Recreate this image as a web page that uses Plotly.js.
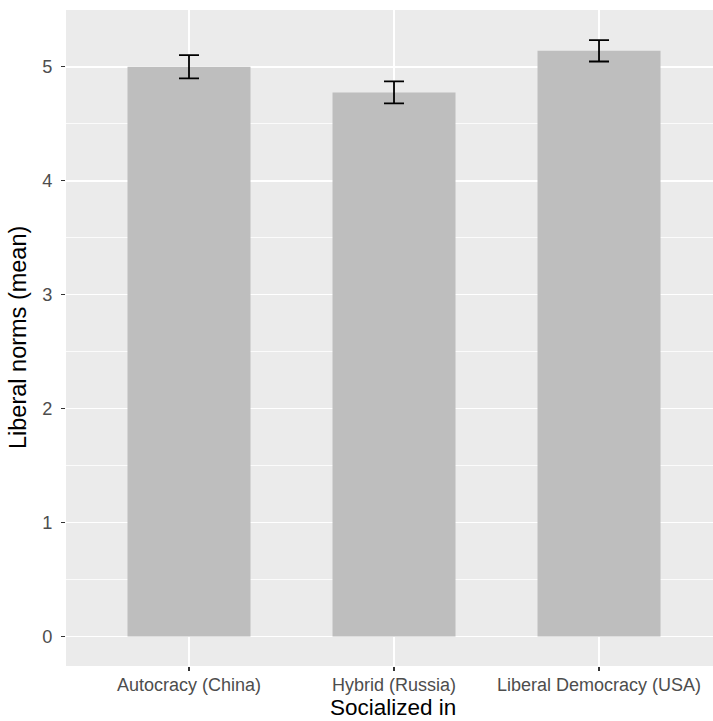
<!DOCTYPE html>
<html>
<head>
<meta charset="utf-8">
<script src="https://cdn.plot.ly/plotly-3.0.1.min.js"></script>
<style>html,body{margin:0;padding:0;background:#fff;overflow:hidden}</style>
</head>
<body>
<div id="chart" style="width:713px;height:721px"></div>
<script>
const categories = ["Autocracy (China)", "Hybrid (Russia)", "Liberal Democracy (USA)"];
const means = [5.0, 4.775, 5.14];
const stdErrors = [0.102, 0.097, 0.094];
const yTicks = [0, 1, 2, 3, 4, 5];

const trace = {
  type: "bar",
  x: categories,
  y: means,
  width: 0.6,
  marker: {color: "#BEBEBE", line: {width: 0}},
  error_y: {type: "data", array: stdErrors, visible: true, color: "#000000", thickness: 1.8, width: 10},
  hoverinfo: "x+y"
};

const layout = {
  width: 713, height: 721,
  margin: {l: 66, r: 0, t: 10, b: 55, pad: 0},
  paper_bgcolor: "#FFFFFF",
  plot_bgcolor: "#EBEBEB",
  font: {family: "Liberation Sans, Arial, sans-serif", color: "#4D4D4D"},
  showlegend: false,
  bargap: 0.4,
  xaxis: {
    type: "category",
    range: [-0.6, 2.556],
    showgrid: true, gridcolor: "#FFFFFF", gridwidth: 1.6,
    zeroline: false, showline: false,
    ticks: "outside", ticklen: 4, tickwidth: 1.4, tickcolor: "#333333",
    tickfont: {size: 18, color: "#4D4D4D"},
    ticklabelstandoff: -2
  },
  yaxis: {
    range: [-0.258, 5.498],
    tickvals: yTicks,
    ticktext: yTicks.map(String),
    showgrid: true, gridcolor: "#FFFFFF", gridwidth: 1.6,
    minor: {tickvals: [0.5, 1.5, 2.5, 3.5, 4.5], showgrid: true, gridcolor: "#FFFFFF", gridwidth: 0.8, ticks: ""},
    zeroline: false, showline: false,
    ticks: "outside", ticklen: 4, tickwidth: 1.4, tickcolor: "#333333",
    tickfont: {size: 18.2, color: "#4D4D4D"},
    ticklabelstandoff: 5
  },
  annotations: [
    {text: "Socialized in", xref: "paper", yref: "paper", x: (393 - 66) / 647, y: 0, yshift: -55,
     xanchor: "center", yanchor: "bottom", showarrow: false, borderpad: 0,
     font: {size: 22.5, color: "#000000", family: "Liberation Sans, Arial, sans-serif"}},
    {text: "Liberal norms (mean)", xref: "paper", yref: "paper", x: 0, xshift: -63, y: 0.5,
     xanchor: "left", yanchor: "middle", textangle: -90, showarrow: false,
     font: {size: 23.5, color: "#000000", family: "Liberation Sans, Arial, sans-serif"}}
  ]
};

Plotly.newPlot("chart", [trace], layout, {displayModeBar: false, staticPlot: true});
</script>
</body>
</html>
